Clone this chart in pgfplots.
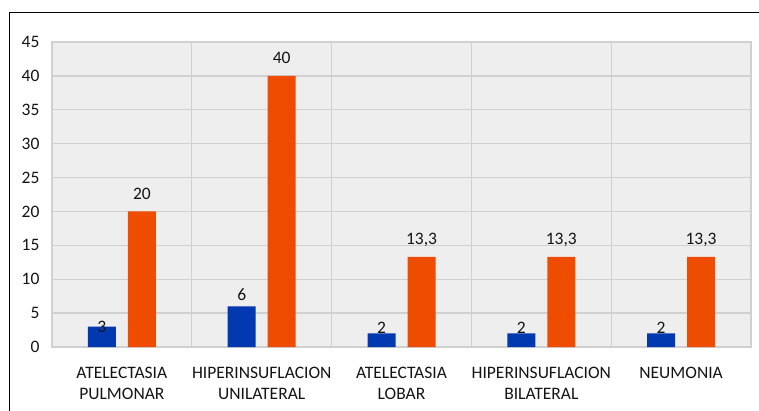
\documentclass[border=0pt]{standalone}
\usepackage{fontspec}
\setmainfont{Carlito}
\usepackage{pgfplots}
\usepackage{pgfplotstable}
\pgfplotsset{compat=1.18}
\definecolor{barblue}{RGB}{2,56,176}
\definecolor{barorange}{RGB}{238,76,0}
\definecolor{bggray}{RGB}{238,238,238}
\definecolor{gridgray}{RGB}{208,208,208}
\definecolor{txt}{RGB}{20,20,20}
\pgfplotstableread{
x y lab dy
0 3 3 -6
1 6 6 6
2 2 2 0
3 2 2 0
4 2 2 0
}\blue
\pgfplotstableread{
x y lab dy
0 20 20 12
1 40 40 12
2 13.3 13,3 12
3 13.3 13,3 12
4 13.3 13,3 12
}\orange
\begin{document}
\begin{tikzpicture}[x=1pt,y=1pt]
\useasboundingbox (0,0) rectangle (759,410);
\draw[black, line width=1pt] (9,-10) -- (9,397) -- (780,397);
\begin{axis}[
  at={(52pt,63pt)}, anchor=south west,
  scale only axis, width=699pt, height=305pt,
  xmin=-0.5, xmax=4.5, ymin=0, ymax=45,
  ytick={0,5,...,45},
  xtick={0,...,4},
  xticklabels={{ATELECTASIA\\PULMONAR},{HIPERINSUFLACION\\UNILATERAL},{ATELECTASIA\\LOBAR},{HIPERINSUFLACION\\BILATERAL},{NEUMONIA}},
  minor xtick={0.5,1.5,2.5,3.5},
  xminorgrids, ymajorgrids, xmajorgrids=false,
  major tick length=0pt, minor tick length=0pt,
  axis line style={draw=gridgray, line width=1.3pt},
  grid style={gridgray, line width=1.3pt},
  minor grid style={gridgray, line width=1.3pt},
  axis background/.style={fill=bggray},
  /pgf/number format/assume math mode=true,
  tick label style={font=\fontsize{17.5}{21}\selectfont, text=txt},
  xticklabel style={align=center, anchor=north, yshift=-17pt},
  yticklabel style={xshift=-9pt},
  ybar=12pt, bar width=28pt,
  nodes near coords,
  point meta=explicit symbolic,
  visualization depends on={\thisrow{dy} \as \dy},
  every node near coord/.append style={font=\fontsize{17.5}{21}\selectfont, text=txt, anchor=base, yshift=\dy pt},
]
\addplot[draw=none, fill=barblue] table[x=x, y=y, meta=lab] {\blue};
\addplot[draw=none, fill=barorange] table[x=x, y=y, meta=lab] {\orange};
\end{axis}
\end{tikzpicture}
\end{document}
